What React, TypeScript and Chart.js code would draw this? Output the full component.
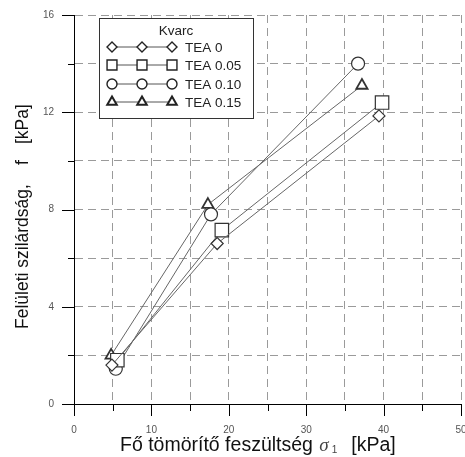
import React, { useEffect, useRef } from "react";
import { Chart, registerables } from "chart.js";

Chart.register(...registerables);

const seriesNames = ["TEA 0", "TEA 0.05", "TEA 0.10", "TEA 0.15"];
const tea0X = [4.9, 18.5, 39.4];
const tea0Y = [1.6, 6.6, 11.85];
const tea005X = [5.6, 19.1, 39.8];
const tea005Y = [1.8, 7.15, 12.4];
const tea010X = [5.4, 17.7, 36.7];
const tea010Y = [1.45, 7.8, 14.0];
const tea015X = [4.8, 17.3, 37.2];
const tea015Y = [2.0, 8.2, 13.1];
const xTickLabels = [0, 10, 20, 30, 40, 50];
const yTickLabels = [0, 4, 8, 12, 16];

const legendTitle = "Kvarc";
const xTitleMain = "Fő tömörítő feszültség";
const xTitleSym = "σ";
const xTitleSub = "1";
const xTitleUnit = "[kPa]";
const yTitleMain = "Felületi szilárdság,";
const yTitleSym = "f";
const yTitleUnit = "[kPa]";

const styles = ["rectRot", "rect", "circle", "triangle"];
const radii = [6, 9.5, 6.5, 6.5];
const borderWidths = [1.2, 1.2, 1.2, 1.8];
const legendRadii = [5, 7, 5, 5.5];

const SANS = "'Liberation Sans', Arial, sans-serif";
const W = 465;
const H = 457;

function zip(xs: number[], ys: number[]) {
  return xs.map((x, i) => ({ x, y: ys[i] }));
}

function drawMarker(ctx: CanvasRenderingContext2D, style: string, x: number, y: number, r: number) {
  ctx.beginPath();
  if (style === "rectRot") {
    ctx.moveTo(x, y - r);
    ctx.lineTo(x + r, y);
    ctx.lineTo(x, y + r);
    ctx.lineTo(x - r, y);
    ctx.closePath();
  } else if (style === "rect") {
    const s = r * Math.SQRT1_2;
    ctx.rect(x - s, y - s, 2 * s, 2 * s);
  } else if (style === "circle") {
    ctx.arc(x, y, r, 0, Math.PI * 2);
  } else {
    const h = r;
    ctx.moveTo(x, y - h);
    ctx.lineTo(x + h * Math.sin((2 * Math.PI) / 3), y - h * Math.cos((2 * Math.PI) / 3));
    ctx.lineTo(x + h * Math.sin((4 * Math.PI) / 3), y - h * Math.cos((4 * Math.PI) / 3));
    ctx.closePath();
  }
  ctx.fill();
  ctx.stroke();
}

const decorPlugin = {
  id: "decor",
  afterDraw(chart: any) {
    const ctx: CanvasRenderingContext2D = chart.ctx;
    const xs = chart.scales.x;
    const ys = chart.scales.y;
    const area = chart.chartArea;
    ctx.save();
    // tick marks
    ctx.strokeStyle = "#000";
    ctx.lineWidth = 1;
    ctx.beginPath();
    for (let v = 0; v <= 50; v += 5) {
      const px = Math.round(xs.getPixelForValue(v)) + 0.5;
      const len = v % 10 === 0 ? 12 : 7;
      ctx.moveTo(px, area.bottom);
      ctx.lineTo(px, area.bottom + len);
    }
    for (let v = 0; v <= 16; v += 2) {
      const py = Math.round(ys.getPixelForValue(v)) + 0.5;
      const len = v % 4 === 0 ? 12 : 6;
      ctx.moveTo(area.left, py);
      ctx.lineTo(area.left - len, py);
    }
    ctx.stroke();

    // x title
    ctx.fillStyle = "#111";
    ctx.textBaseline = "alphabetic";
    ctx.textAlign = "left";
    let tx = 120;
    const ty = 451;
    ctx.font = `19.5px ${SANS}`;
    ctx.fillText(xTitleMain, tx, ty);
    tx += ctx.measureText(xTitleMain + " ").width + 1;
    ctx.font = `italic 19px 'Liberation Serif', 'DejaVu Serif', serif`;
    ctx.fillStyle = "#444";
    ctx.fillText(xTitleSym, tx, ty);
    tx += ctx.measureText(xTitleSym).width + 3;
    ctx.font = `10px ${SANS}`;
    ctx.fillText(xTitleSub, tx, ty + 2);
    tx += ctx.measureText(xTitleSub).width + 14;
    ctx.fillStyle = "#111";
    ctx.font = `19.5px ${SANS}`;
    ctx.fillText(xTitleUnit, tx, ty);

    // y title
    ctx.save();
    ctx.translate(28, 0);
    ctx.rotate(-Math.PI / 2);
    ctx.font = `17.5px ${SANS}`;
    ctx.fillText(yTitleMain, -329, 0);
    ctx.fillText(yTitleSym, -165, 0);
    ctx.fillText(yTitleUnit, -144, 0);
    ctx.restore();

    // legend
    const lx = 99.5, ly = 18.5, lw = 154, lh = 100;
    ctx.fillStyle = "#fff";
    ctx.fillRect(lx, ly, lw, lh);
    ctx.strokeStyle = "#333";
    ctx.lineWidth = 1;
    ctx.strokeRect(lx, ly, lw, lh);
    ctx.fillStyle = "#222";
    ctx.font = `13.5px ${SANS}`;
    ctx.textAlign = "center";
    ctx.textBaseline = "middle";
    ctx.fillText(legendTitle, 176, 31);
    const rowY = [47, 65, 84, 102];
    const mx = [112, 142, 172];
    seriesNames.forEach((name, i) => {
      const y = rowY[i];
      ctx.strokeStyle = "#555";
      ctx.lineWidth = 1;
      ctx.beginPath();
      ctx.moveTo(mx[0], y);
      ctx.lineTo(mx[2], y);
      ctx.stroke();
      ctx.strokeStyle = "#222";
      ctx.fillStyle = "#fff";
      ctx.lineWidth = borderWidths[i] + 0.2;
      mx.forEach((x) => drawMarker(ctx, styles[i], x, y, legendRadii[i]));
      ctx.fillStyle = "#222";
      ctx.textAlign = "left";
      ctx.font = `13.5px ${SANS}`;
      ctx.fillText(name, 185, y + 1);
    });
    ctx.restore();
  },
};

export default function App() {
  const ref = useRef<HTMLCanvasElement | null>(null);
  useEffect(() => {
    document.body.style.margin = "0";
    document.body.style.overflow = "hidden";
    const canvas = ref.current!;
    const datasets = [
      zip(tea0X, tea0Y),
      zip(tea005X, tea005Y),
      zip(tea010X, tea010Y),
      zip(tea015X, tea015Y),
    ].map((data, i) => ({
      label: seriesNames[i],
      data,
      showLine: true,
      borderColor: "#666",
      borderWidth: 1,
      pointStyle: styles[i],
      pointRadius: radii[i],
      pointHoverRadius: radii[i],
      pointBorderColor: "#333",
      pointBackgroundColor: "#fff",
      pointBorderWidth: borderWidths[i],
      fill: false,
    }));
    const chart = new Chart(canvas, {
      type: "scatter",
      data: { datasets },
      options: {
        animation: false,
        responsive: false,
        devicePixelRatio: 1,
        events: [],
        layout: { autoPadding: false, padding: { left: 0, right: 4, top: 15, bottom: 0 } },
        plugins: { legend: { display: false }, tooltip: { enabled: false } },
        scales: {
          x: {
            type: "linear",
            min: 0,
            max: 50,
            ticks: {
              stepSize: 5,
              padding: 20,
              color: "#555",
              font: { size: 10, family: SANS },
              maxRotation: 0,
              autoSkip: false,
              callback: (v: any) => (xTickLabels.includes(Number(v)) ? String(v) : ""),
            },
            grid: { color: "#9a9a9a", lineWidth: 1, drawTicks: false },
            border: { display: true, color: "#000", width: 1, dash: [8, 5] },
            afterFit: (s: any) => {
              s.height = 53;
              s.paddingLeft = 0;
              s.paddingRight = 0;
            },
          },
          y: {
            type: "linear",
            min: 0,
            max: 16,
            ticks: {
              stepSize: 2,
              padding: 20,
              color: "#555",
              font: { size: 10, family: SANS },
              autoSkip: false,
              callback: (v: any) => (yTickLabels.includes(Number(v)) ? String(v) : ""),
            },
            grid: { color: "#9a9a9a", lineWidth: 1, drawTicks: false },
            border: { display: true, color: "#000", width: 1, dash: [8, 5] },
            afterFit: (s: any) => {
              s.width = 74;
              s.paddingTop = 0;
              s.paddingBottom = 0;
            },
          },
        },
      },
      plugins: [decorPlugin],
    } as any);
    return () => chart.destroy();
  }, []);
  return (
    <div style={{ position: "absolute", left: 0, top: 0, width: W, height: H }}>
      <canvas ref={ref} width={W} height={H} style={{ display: "block", width: W, height: H }} />
    </div>
  );
}
